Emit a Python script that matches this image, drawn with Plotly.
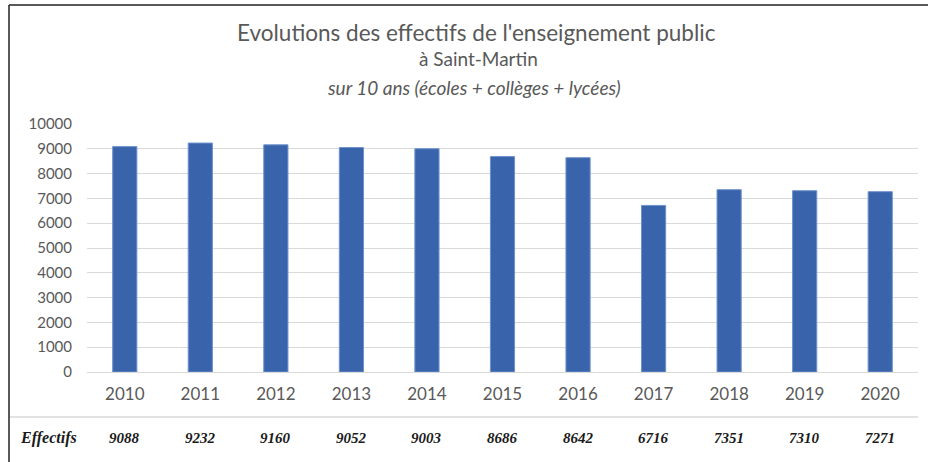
import plotly.graph_objects as go

years = ["2010", "2011", "2012", "2013", "2014", "2015", "2016", "2017", "2018", "2019", "2020"]
effectifs = [9088, 9232, 9160, 9052, 9003, 8686, 8642, 6716, 7351, 7310, 7271]
y_ticks = [0, 1000, 2000, 3000, 4000, 5000, 6000, 7000, 8000, 9000, 10000]

title_1 = "Evolutions des effectifs de l'enseignement public"
title_2 = "à Saint-Martin"
title_3 = "sur 10 ans (écoles + collèges + lycées)"
row_label = "Effectifs"

W, H = 928, 462
L, R, T, B = 87, 10, 124, 90
pw, ph = W - L - R, H - T - B

def px(x):
    return (x - L) / pw

def py(y):
    return (H - B - y) / ph

fig = go.Figure()
fig.add_trace(go.Bar(
    x=years, y=effectifs,
    marker=dict(color="#3964AB", line=dict(color="#6E92CC", width=1)),
    hoverinfo="x+y",
))

grey = "#595959"
ann = [
    dict(text=title_1, x=px(476), y=py(32), font=dict(family="Lato", size=22.5, color=grey)),
    dict(text=title_2, x=px(478), y=py(58), font=dict(family="Lato", size=19, color=grey)),
    dict(text="<i>" + title_3 + "</i>", x=px(474), y=py(87), font=dict(family="Lato", size=19, color=grey)),
    dict(text="<i><b>" + row_label + "</b></i>", x=px(48), y=py(438),
         font=dict(family="Liberation Serif", size=16, color="#1a1a1a")),
]
for a in ann:
    a.update(xref="paper", yref="paper", showarrow=False, xanchor="center", yanchor="middle")
for i, v in enumerate(effectifs):
    ann.append(dict(text="<i><b>%d</b></i>" % v, x=i, xref="x", y=py(438), yref="paper",
                    showarrow=False, xanchor="center", yanchor="middle",
                    font=dict(family="Liberation Serif", size=15, color="#1a1a1a")))

shapes = [
    dict(type="line", xref="paper", yref="paper", x0=px(9), x1=px(928), y0=py(5), y1=py(5),
         line=dict(color="#222222", width=1.5)),
    dict(type="line", xref="paper", yref="paper", x0=px(9), x1=px(9), y0=py(5), y1=py(462),
         line=dict(color="#222222", width=1.5)),
    dict(type="line", xref="paper", yref="paper", x0=px(10), x1=px(918), y0=py(417), y1=py(417),
         line=dict(color="#d9d9d9", width=1.5)),
]

fig.update_layout(
    width=W, height=H,
    margin=dict(l=L, r=R, t=T, b=B),
    paper_bgcolor="white", plot_bgcolor="white",
    showlegend=False,
    bargap=0.68,
    annotations=ann, shapes=shapes,
    xaxis=dict(type="category", range=[-0.5, len(years) - 0.5], autorange=False,
               showgrid=False, showline=False, ticks="",
               tickfont=dict(family="Lato", size=17, color=grey), ticklabelstandoff=10),
    yaxis=dict(range=[0, 10000], autorange=False, tickvals=y_ticks, ticktext=[str(t) for t in y_ticks],
               showgrid=True, gridcolor="#d9d9d9", gridwidth=1,
               zeroline=True, zerolinecolor="#d9d9d9", zerolinewidth=1, showline=False, ticks="",
               tickfont=dict(family="Lato", size=15, color=grey), ticklabelstandoff=14),
)

fig.write_html("out.html", config={"displayModeBar": False},
               post_script="document.body.style.margin='0';document.body.style.padding='0';")
